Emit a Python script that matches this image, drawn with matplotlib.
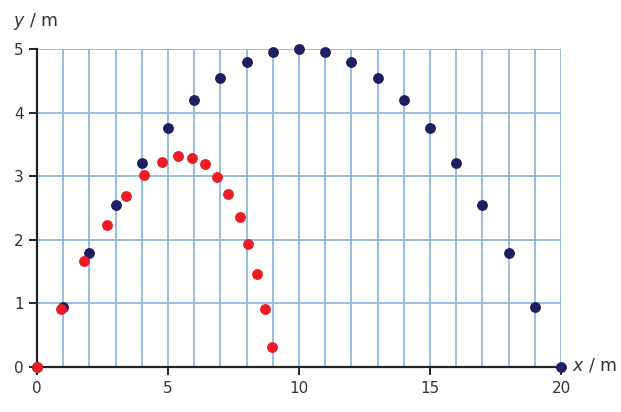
import matplotlib.pyplot as plt

# blue trajectory (x, y) in metres
blue_x = [0, 1, 2, 3, 4, 5, 6, 7, 8, 9, 10, 11, 12, 13, 14, 15, 16, 17, 18, 19, 20]
blue_y = [0, 0.95, 1.8, 2.55, 3.2, 3.75, 4.2, 4.55, 4.8, 4.95, 5.0,
          4.95, 4.8, 4.55, 4.2, 3.75, 3.2, 2.55, 1.8, 0.95, 0]

# red trajectory
red_x = [0, 0.92, 1.81, 2.66, 3.40, 4.10, 4.76, 5.37, 5.93, 6.41, 6.86,
         7.30, 7.75, 8.04, 8.39, 8.70, 8.98]
red_y = [0, 0.91, 1.66, 2.24, 2.69, 3.02, 3.22, 3.31, 3.29, 3.19, 2.99,
         2.72, 2.36, 1.94, 1.46, 0.91, 0.32]

fig = plt.figure(figsize=(6.21, 4.12), dpi=100)
ax = fig.add_axes([0.0596, 0.1092, 0.8438, 0.7719])

grid_col = '#8db7dd'
for gx in range(1, 21):
    ax.axvline(gx, color=grid_col, lw=1.3, zorder=1)
for gy in range(1, 6):
    ax.axhline(gy, color=grid_col, lw=1.3, zorder=1)

ax.scatter(blue_x, blue_y, s=46, color='#1d2060', zorder=3, clip_on=False)
ax.scatter(red_x, red_y, s=46, color='#ec1c24', zorder=4, clip_on=False)

ax.set_xlim(0, 20)
ax.set_ylim(0, 5)
ax.set_xticks([0, 5, 10, 15, 20])
ax.set_yticks([0, 1, 2, 3, 4, 5])

for s in ['top', 'right']:
    ax.spines[s].set_visible(False)
for s in ['left', 'bottom']:
    ax.spines[s].set_linewidth(1.6)
    ax.spines[s].set_color('#222222')
    ax.spines[s].set_zorder(2)

ax.tick_params(direction='out', length=6, width=1.4, colors='#222222',
               labelsize=11, labelcolor='#333333')
ax.tick_params(axis='x', pad=4)

fig.text(0.058, 0.947, '$y$ / m', fontsize=12.5, color='#333333', ha='center', va='center')
fig.text(0.958, 0.112, '$x$ / m', fontsize=12.5, color='#333333', ha='center', va='center')

fig.savefig('out.png', dpi=100)
